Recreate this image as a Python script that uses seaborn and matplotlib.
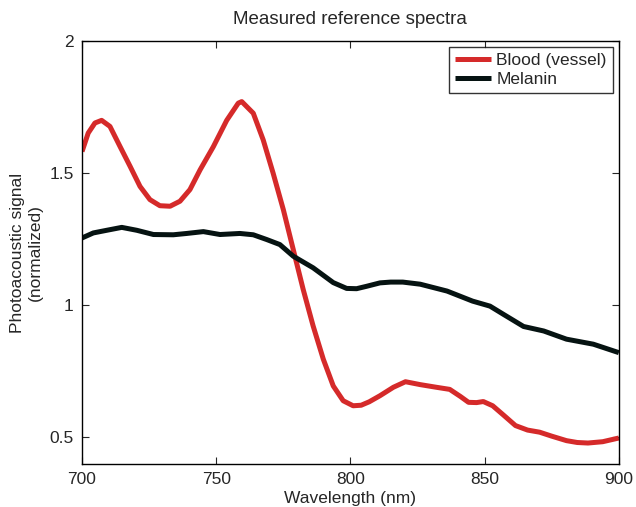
import numpy as np
import pandas as pd
import matplotlib
matplotlib.use("Agg")
import matplotlib.pyplot as plt
import seaborn as sns

# values
blood_nm = [700, 702.3, 704.8, 707.3, 710.4, 714.2, 717.9, 721.6, 725.3, 729, 732.8,
            736.5, 740.2, 744, 748.9, 753.9, 758.2, 759.5, 763.8, 767.5, 771.2, 775,
            778.7, 782.4, 786.1, 789.9, 793.6, 797.3, 801, 804, 807, 811, 816,
            820.5, 826, 832, 837, 841, 844, 847, 849.5, 853, 857, 861.5, 866, 870.5,
            875, 880.5, 884.5, 888.5, 894, 900]
blood_sig = [1.582, 1.652, 1.69, 1.70, 1.677, 1.60, 1.526, 1.45, 1.40, 1.377, 1.375,
             1.394, 1.438, 1.513, 1.60, 1.70, 1.765, 1.771, 1.727, 1.626, 1.50, 1.362,
             1.211, 1.06, 0.922, 0.796, 0.695, 0.639, 0.62, 0.622, 0.635, 0.658, 0.69,
             0.711, 0.70, 0.69, 0.682, 0.655, 0.633, 0.632, 0.636, 0.62, 0.585, 0.545, 0.528, 0.52,
             0.505, 0.488, 0.481, 0.479, 0.484, 0.498]

melanin_nm = [700, 704.2, 709.2, 714.8, 720.4, 726.6, 734, 739, 745.2, 751.4, 758.8,
              763.8, 768.8, 773.7, 778.7, 786.1, 793.6, 798.6, 802.3, 806, 811,
              815, 819.5, 826, 836, 845.5, 852, 857, 864.5, 872, 880.5, 890.5, 900]
melanin_sig = [1.255, 1.274, 1.284, 1.295, 1.284, 1.268, 1.267, 1.272, 1.279, 1.268, 1.272,
               1.267, 1.249, 1.23, 1.186, 1.142, 1.086, 1.064, 1.063, 1.072, 1.085,
               1.088, 1.088, 1.08, 1.054, 1.016, 0.997, 0.966, 0.92, 0.903, 0.872, 0.853, 0.821]

labels = ["Blood (vessel)", "Melanin"]
colors = ["#d52a2a", "#061312"]

df = pd.concat([
    pd.DataFrame({"nm": blood_nm, "signal": blood_sig, "tissue": labels[0]}),
    pd.DataFrame({"nm": melanin_nm, "signal": melanin_sig, "tissue": labels[1]}),
])

sns.set_style("ticks")
plt.rcParams["font.family"] = ["Liberation Sans", "DejaVu Sans"]

fig = plt.figure(figsize=(6.36, 5.07), dpi=100)
ax = fig.add_axes([0.129, 0.085, 0.844, 0.834])

sns.lineplot(data=df, x="nm", y="signal", hue="tissue", palette=colors,
             linewidth=3.6, sort=False, estimator=None, ax=ax,
             solid_joinstyle="round", solid_capstyle="butt")

ax.set_xlim(700, 900)
ax.set_ylim(0.4, 2)
ax.set_xticks([700, 750, 800, 850, 900])
ax.set_yticks([0.5, 1, 1.5, 2])
ax.set_yticklabels(["0.5", "1", "1.5", "2"])
ax.tick_params(direction="in", top=True, right=True, length=5, width=0.8,
               labelsize=12.5, pad=6)
for s in ax.spines.values():
    s.set_linewidth(1.0)
    s.set_color("black")

ax.set_title("Measured reference spectra", fontsize=13.5, pad=12)
ax.set_xlabel("Wavelength (nm)", fontsize=12.5, labelpad=3)
ax.set_ylabel("Photoacoustic signal\n(normalized)", fontsize=12.5, labelpad=5)

leg = ax.legend(loc="upper right", fontsize=12.5, frameon=True, fancybox=False,
                borderaxespad=0.35, handlelength=2.1, handletextpad=0.3,
                borderpad=0.35, labelspacing=0.2)
leg.get_frame().set_edgecolor("black")
leg.get_frame().set_linewidth(1.0)

fig.savefig("out.png", dpi=100)
